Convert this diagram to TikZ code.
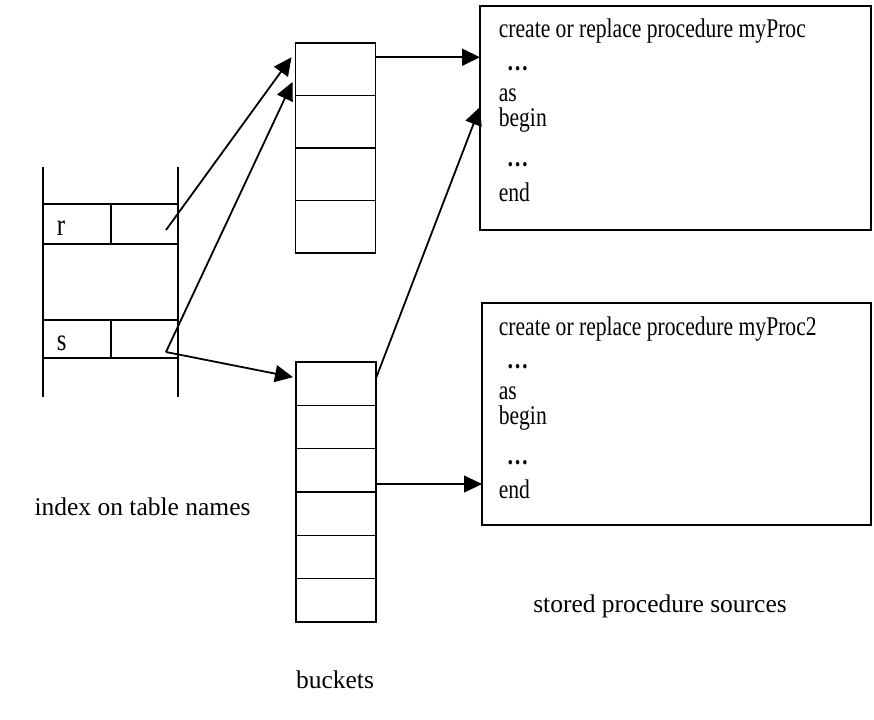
\documentclass[tikz,border=0pt]{standalone}
\usepackage{fontspec}
\setmainfont{Liberation Serif}
\newfontfamily\codefont[FakeStretch=0.8]{Liberation Serif}
\usetikzlibrary{arrows.meta}
\begin{document}
\begin{tikzpicture}[x=1pt, y=-1pt, line width=1.6pt,
  cell/.style={draw, inner sep=0pt, outer sep=0pt},
  bucket/.style={cell, minimum width=80pt},
  ptr/.style={-{Triangle[length=18pt,width=17pt]}, line width=1.8pt},
  code/.style={anchor=base west, inner sep=0pt, font=\codefont\fontsize{27}{30}\selectfont},
  keyfont/.style={anchor=base west, inner sep=0pt, font=\codefont\fontsize{31}{34}\selectfont},
  caption/.style={anchor=base, inner sep=0pt, font=\fontsize{25.5}{30}\selectfont}
]
\useasboundingbox (0,0) rectangle (874,719);

% index on table names: two open columns with the r and s rows
\draw (43,167) -- (43,397);
\draw (178,167) -- (178,397);
\node[cell, minimum width=68pt, minimum height=40pt] (rkey) at (77,224) {};
\node[cell, minimum width=67pt, minimum height=40pt] (rptr) at (144.5,224) {};
\node[cell, minimum width=68pt, minimum height=38pt] (skey) at (77,339) {};
\node[cell, minimum width=67pt, minimum height=38pt] (sptr) at (144.5,339) {};
\node[keyfont] (rlab) at (56,235) {r};
\node[keyfont] (slab) at (56,350) {s};

% buckets of the first table
\foreach \i/\y in {1/69.25, 2/121.75, 3/174.25, 4/226.75}
  \node[bucket, minimum height=52.5pt] (b\i) at (335.5,\y) {};

% buckets of the second table
\foreach \i/\y in {1/383.67, 2/427, 3/470.33, 4/513.67, 5/557, 6/600.33}
  \node[bucket, minimum height=43.33pt] (c\i) at (336,\y) {};

% stored procedure sources
\node[cell, minimum width=391pt, minimum height=224pt] (box1) at (675.5,118) {};
\node[cell, minimum width=389pt, minimum height=222pt] (box2) at (676.5,414) {};

\foreach \t/\name in {6/myProc, 303/myProc2} {
  \node[code] at (498,\t+32) {create or replace procedure \name};
  \node[code] at (506,\t+65) {\textbf{…}};
  \node[code] at (498,\t+96) {as};
  \node[code] at (498,\t+121) {begin};
  \node[code] at (506,\t+161) {\textbf{…}};
  \node[code] at (498,\t+195) {end};
}

% captions
\node[caption] (lidx) at (142.5,515) {index on table names};
\node[caption] (lbkt) at (335,688) {buckets};
\node[caption] (lsrc) at (660,612) {stored procedure sources};

% pointers
\coordinate (rp) at ([xshift=21.5pt,yshift=-6pt]rptr.center);
\coordinate (sp) at ([xshift=21.5pt,yshift=-13pt]sptr.center);
\draw[ptr] (rp) -- ([xshift=-4pt,yshift=12pt]b1.west);
\draw[ptr] (sp) -- ([xshift=-3pt,yshift=-12.75pt]b1.west);
\draw[ptr] (sp) -- ([xshift=-3pt,yshift=6.5pt]c1.west);

\coordinate (b1o) at ([yshift=12pt]b1.east);
\draw[ptr] (b1o) -- (b1o -| box1.west);
\draw[ptr] ([yshift=5.5pt]c1.east) -- ([yshift=11pt]box1.west);
\coordinate (c3o) at ([yshift=-13.7pt]c3.east);
\draw[ptr, line width=1.2pt] (c3o) -- (c3o -| box2.west);
\end{tikzpicture}
\end{document}
